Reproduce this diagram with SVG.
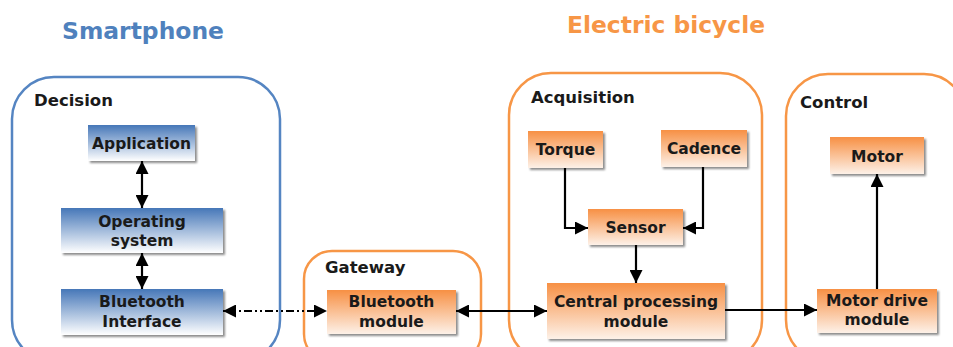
<svg xmlns="http://www.w3.org/2000/svg" width="953" height="347" viewBox="0 0 953 347">
<style>
  text { font-family: "DejaVu Sans", Verdana, "Liberation Sans", sans-serif; font-weight: bold; fill: #1a1a1a; }
  .title { font-size: 22.5px; text-anchor: middle; }
  .lbl { font-size: 16.5px; }
  .nt { font-size: 15.5px; text-anchor: middle; }
  .cblue { fill: none; stroke: #5585c2; stroke-width: 2.5; }
  .corange { fill: none; stroke: #f79646; stroke-width: 2.5; }
  .bnode { fill: url(#gBlue); filter: url(#sh); }
  .onode { fill: url(#gOrange); filter: url(#sh); }
  .conn { fill: none; stroke: #000; stroke-width: 2.2; }
</style>
<defs>
  <linearGradient id="gBlue" x1="0" y1="0" x2="0" y2="1">
    <stop offset="0" stop-color="#4677b8"/>
    <stop offset="1" stop-color="#ffffff"/>
  </linearGradient>
  <linearGradient id="gOrange" x1="0" y1="0" x2="0" y2="1">
    <stop offset="0" stop-color="#f79044"/>
    <stop offset="1" stop-color="#fdf1e8"/>
  </linearGradient>
  <filter id="sh" x="-10%" y="-10%" width="130%" height="140%">
    <feDropShadow dx="2" dy="2" stdDeviation="1" flood-color="#000" flood-opacity="0.45"/>
  </filter>
  <marker id="ah" markerUnits="userSpaceOnUse" markerWidth="13" markerHeight="13" viewBox="0 0 13 13" refX="13" refY="6.5" orient="auto-start-reverse">
    <path d="M0,0 L13,6.5 L0,13 z" fill="#000"/>
  </marker>
</defs>

<text class="title" x="143" y="39" textLength="162" lengthAdjust="spacingAndGlyphs" style="fill:#4f81bd">Smartphone</text>
<text class="title" x="666" y="33" textLength="198" lengthAdjust="spacingAndGlyphs" style="fill:#f79646">Electric bicycle</text>

<g id="decision">
  <rect class="cblue" x="12" y="77" width="268" height="285" rx="42"/>
  <text class="lbl" x="34" y="106">Decision</text>
</g>
<g id="gateway">
  <rect class="corange" x="304" y="251" width="177" height="111" rx="28"/>
  <text class="lbl" x="325" y="273">Gateway</text>
</g>
<g id="acquisition">
  <rect class="corange" x="509" y="73" width="253" height="289" rx="42"/>
  <text class="lbl" x="531" y="103">Acquisition</text>
</g>
<g id="control">
  <rect class="corange" x="786" y="74" width="180" height="288" rx="42"/>
  <text class="lbl" x="800" y="108">Control</text>
</g>

<g id="application">
  <rect class="bnode" x="88" y="125" width="107" height="36"/>
  <text class="nt" x="141.5" y="149">Application</text>
</g>
<g id="operating-system">
  <rect class="bnode" x="61" y="208" width="162" height="45"/>
  <text class="nt" x="142" y="227">Operating</text>
  <text class="nt" x="142" y="246">system</text>
</g>
<g id="bluetooth-interface">
  <rect class="bnode" x="61" y="289" width="162" height="46"/>
  <text class="nt" x="142" y="307">Bluetooth</text>
  <text class="nt" x="142" y="327">Interface</text>
</g>
<g id="bluetooth-module">
  <rect class="onode" x="327" y="290" width="129" height="44"/>
  <text class="nt" x="391.5" y="307">Bluetooth</text>
  <text class="nt" x="391.5" y="327">module</text>
</g>
<g id="torque">
  <rect class="onode" x="528" y="131" width="75" height="37"/>
  <text class="nt" x="565.5" y="155">Torque</text>
</g>
<g id="cadence">
  <rect class="onode" x="661" y="130" width="86" height="37"/>
  <text class="nt" x="704" y="154">Cadence</text>
</g>
<g id="sensor">
  <rect class="onode" x="588" y="209" width="95" height="36"/>
  <text class="nt" x="635.5" y="233">Sensor</text>
</g>
<g id="central-processing">
  <rect class="onode" x="547" y="283" width="178" height="56"/>
  <text class="nt" x="636" y="307">Central processing</text>
  <text class="nt" x="636" y="327">module</text>
</g>
<g id="motor">
  <rect class="onode" x="830" y="137" width="94" height="37"/>
  <text class="nt" x="877" y="162">Motor</text>
</g>
<g id="motor-drive">
  <rect class="onode" x="817" y="289" width="120" height="44"/>
  <text class="nt" x="877" y="306">Motor drive</text>
  <text class="nt" x="877" y="325">module</text>
</g>

<g id="connectors">
  <line class="conn" x1="142" y1="161" x2="142" y2="208" marker-start="url(#ah)" marker-end="url(#ah)"/>
  <line class="conn" x1="142" y1="253" x2="142" y2="289" marker-start="url(#ah)" marker-end="url(#ah)"/>
  <line class="conn" x1="223" y1="311" x2="327" y2="311" stroke-dasharray="8 3 2 3 2 3" marker-start="url(#ah)" marker-end="url(#ah)"/>
  <line class="conn" x1="456" y1="311" x2="547" y2="311" marker-start="url(#ah)" marker-end="url(#ah)"/>
  <line class="conn" x1="725" y1="310" x2="817" y2="310" marker-end="url(#ah)"/>
  <path class="conn" d="M565,168 V228 H588" marker-end="url(#ah)"/>
  <path class="conn" d="M703,167 V228 H683" marker-end="url(#ah)"/>
  <line class="conn" x1="636" y1="245" x2="636" y2="283" marker-end="url(#ah)"/>
  <line class="conn" x1="877" y1="289" x2="877" y2="174" marker-end="url(#ah)"/>
</g>
</svg>
